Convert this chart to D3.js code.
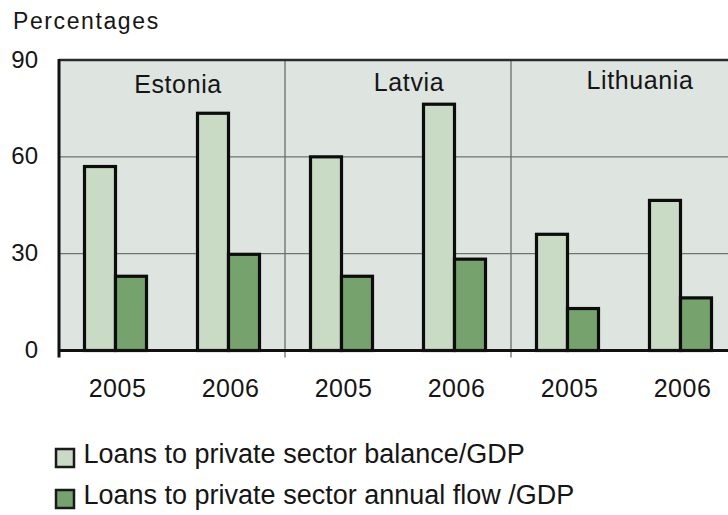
<!DOCTYPE html>
<html>
<head>
<meta charset="utf-8">
<script src="https://cdn.jsdelivr.net/npm/d3@7"></script>
<style>
  html, body { margin: 0; padding: 0; background: #fff; overflow: hidden; }
  svg { display: block; font-family: "Liberation Sans", Arial, sans-serif; }
</style>
</head>
<body>
<svg id="chart" width="728" height="515"></svg>
<script>
// ---- data ----
const countries = ["Estonia", "Latvia", "Lithuania"];
const years = ["2005", "2006"];
const seriesNames = ["Loans to private sector balance/GDP", "Loans to private sector annual flow /GDP"];
const balance = [57, 73.5, 60, 76.3, 36, 46.5];   // Estonia05, Estonia06, Latvia05, Latvia06, Lithuania05, Lithuania06
const flow    = [23, 29.8, 23, 28.3, 13, 16.3];
const yTicks = [0, 30, 60, 90];
const yLabel = "Percentages";

// ---- layout ----
const svg = d3.select("#chart");
const pLeft = 59, pTop = 60, pBottom = 350.5, pRight = 737;
const colors = ["#c9dbc5", "#76a36d"];
const bg = "#dee4e0";

const cats = [];
countries.forEach(c => years.forEach(yr => cats.push(c + "|" + yr)));

const x0 = d3.scaleBand().domain(cats).range([pLeft, pRight]).padding(0);
const groupX = d3.scaleBand().domain(countries).range([pLeft, pRight]).padding(0);
const pairHalf = 31;
const x1 = d3.scaleBand().domain([0, 1])
  .range([x0.bandwidth() / 2 - pairHalf, x0.bandwidth() / 2 + pairHalf]).padding(0);
const y = d3.scaleLinear().domain([0, 90]).range([pBottom, pTop]);

// plot background
svg.append("rect")
  .attr("x", pLeft).attr("y", pTop)
  .attr("width", pRight - pLeft + 10).attr("height", pBottom - pTop)
  .attr("fill", bg);

// horizontal gridlines
svg.append("g")
  .selectAll("line")
  .data(yTicks.filter(t => t > 0 && t < 90))
  .join("line")
  .attr("x1", pLeft).attr("x2", 728)
  .attr("y1", d => y(d)).attr("y2", d => y(d))
  .attr("stroke", "#6f7470").attr("stroke-width", 1.3);

// country dividers (extending below axis as tick marks)
svg.append("g")
  .selectAll("line")
  .data(countries.slice(1))
  .join("line")
  .attr("x1", d => groupX(d)).attr("x2", d => groupX(d))
  .attr("y1", pTop).attr("y2", pBottom + 7)
  .attr("stroke", "#6a6e6b").attr("stroke-width", 1.3);

// top border
svg.append("line")
  .attr("x1", pLeft).attr("x2", 728)
  .attr("y1", pTop).attr("y2", pTop)
  .attr("stroke", "#2a2c2b").attr("stroke-width", 2.5);

// bars
const rows = cats.map((c, i) => ({ key: c, vals: [balance[i], flow[i]] }));
const gBars = svg.append("g");
rows.forEach(r => {
  gBars.append("g").selectAll("rect")
    .data(r.vals.map((v, j) => ({ v, j })))
    .join("rect")
    .attr("x", d => x0(r.key) + x1(d.j))
    .attr("y", d => y(d.v))
    .attr("width", x1.bandwidth())
    .attr("height", d => y(0) - y(d.v))
    .attr("fill", d => colors[d.j])
    .attr("stroke", "#0c0c0c")
    .attr("stroke-width", 3.2);
});

// left axis line
svg.append("line")
  .attr("x1", pLeft).attr("x2", pLeft)
  .attr("y1", pTop - 1).attr("y2", pBottom + 7)
  .attr("stroke", "#111").attr("stroke-width", 3);
// bottom axis line
svg.append("line")
  .attr("x1", pLeft).attr("x2", 728)
  .attr("y1", pBottom).attr("y2", pBottom)
  .attr("stroke", "#111").attr("stroke-width", 3);

// y tick labels
svg.append("g")
  .selectAll("text")
  .data(yTicks)
  .join("text")
  .attr("x", 38).attr("y", d => y(d) - 1)
  .attr("text-anchor", "end")
  .attr("dominant-baseline", "central")
  .attr("font-size", 24)
  .attr("fill", "#151515")
  .text(d => d);

// y label
svg.append("text")
  .attr("x", 13).attr("y", 28.5)
  .attr("font-size", 23).attr("letter-spacing", 1.6)
  .attr("fill", "#151515")
  .text(yLabel);

// x year labels
svg.append("g")
  .selectAll("text")
  .data(cats)
  .join("text")
  .attr("x", d => x0(d) + x0.bandwidth() / 2 + 2)
  .attr("y", 396.5)
  .attr("text-anchor", "middle")
  .attr("font-size", 25).attr("letter-spacing", 0.5)
  .attr("fill", "#151515")
  .text(d => d.split("|")[1]);

// country labels
svg.append("g")
  .selectAll("text")
  .data(countries)
  .join("text")
  .attr("x", (d, i) => groupX(d) + groupX.bandwidth() / 2 + 6 + i * 5)
  .attr("y", (d, i) => 93 - i * 2)
  .attr("text-anchor", "middle")
  .attr("font-size", 25).attr("letter-spacing", 0.6)
  .attr("fill", "#151515")
  .text(d => d);

// legend
const leg = svg.append("g");
seriesNames.forEach((s, i) => {
  const ly = 449 + i * 41;
  leg.append("rect")
    .attr("x", 56).attr("y", ly)
    .attr("width", 18).attr("height", 18)
    .attr("fill", colors[i])
    .attr("stroke", "#1a1a1a").attr("stroke-width", 2.5);
  leg.append("text")
    .attr("x", 83.5).attr("y", ly + 14)
    .attr("font-size", 27)
    .attr("fill", "#151515")
    .text(s);
});
</script>
</body>
</html>
